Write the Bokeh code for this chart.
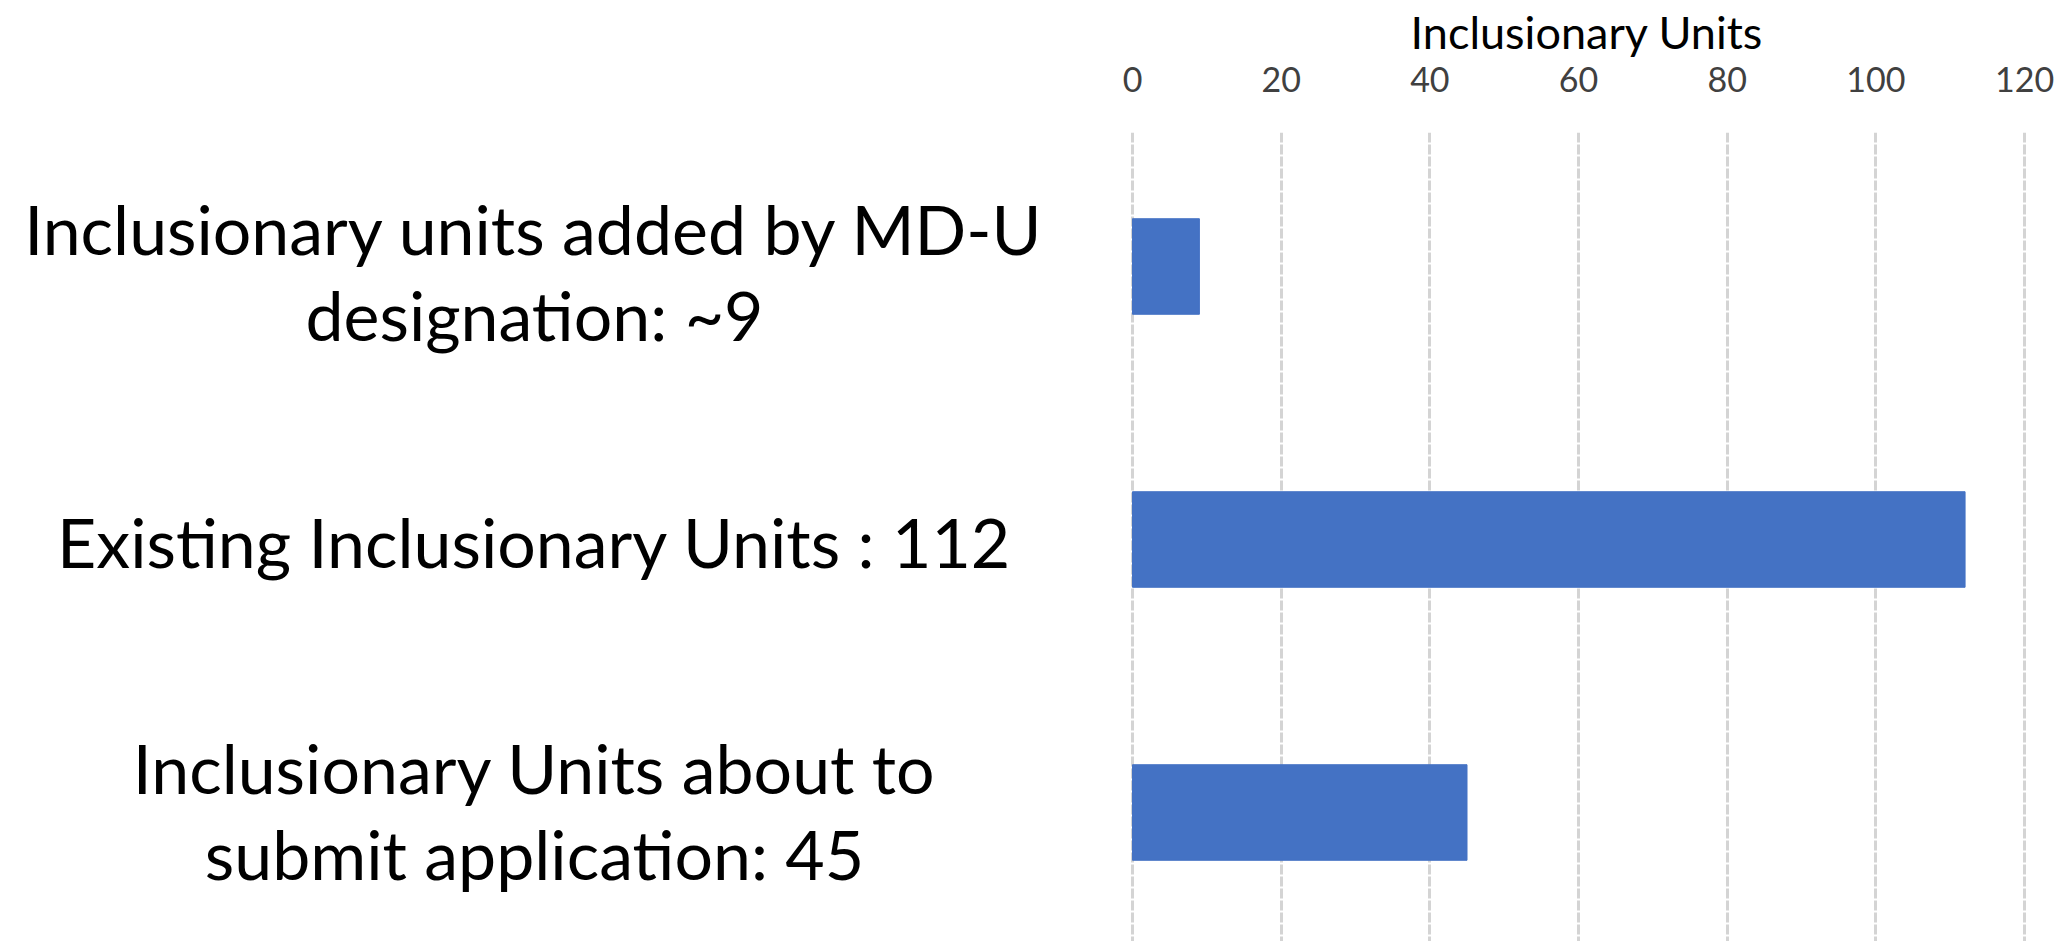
from bokeh.plotting import figure
from bokeh.models import Range1d, FixedTicker, ColumnDataSource, LinearAxis
from bokeh.layouts import row
from bokeh.core.properties import value
from bokeh.embed import file_html
from bokeh.resources import INLINE

# ---- data ----
categories = [
    "Inclusionary units added by MD-U\ndesignation: ~9",
    "Existing Inclusionary Units : 112",
    "Inclusionary Units about to\nsubmit application: 45",
]
units = [9, 112, 45]
tick_values = [0, 20, 40, 60, 80, 100, 120]
axis_title = "Inclusionary Units"

FONT = "Lato"
ypos = list(range(len(categories)))

src = ColumnDataSource(dict(y=ypos, units=units, label=categories,
                            yoff=[5, 2, -2]))

y_range = Range1d(2.4725, -0.49084)
TOP = 132

# ---- left panel: category labels ----
left = figure(width=1117, height=941, output_backend="svg", toolbar_location=None,
              x_range=Range1d(0, 1117), y_range=y_range,
              x_axis_location=None, y_axis_location=None,
              min_border_left=0, min_border_right=0, min_border_bottom=0,
              min_border_top=TOP)
left.outline_line_color = None
left.xgrid.grid_line_color = None
left.ygrid.grid_line_color = None
left.text(x=534, y="y", text="label", source=src, y_offset="yoff",
          text_align="center", text_baseline="middle",
          text_font=value(FONT), text_font_size="68px", text_color="#000000",
          text_line_height=1.05)

# ---- right panel: bars ----
p = figure(width=939, height=941, output_backend="svg", toolbar_location=None,
           x_range=Range1d(-2.018, 124.3), y_range=y_range,
           x_axis_location=None, y_axis_location=None,
           min_border_left=0, min_border_right=0, min_border_bottom=0,
           min_border_top=TOP)
p.outline_line_color = None

ax = LinearAxis(ticker=FixedTicker(ticks=tick_values), axis_label=axis_title)
ax.axis_line_color = None
ax.major_tick_line_color = None
ax.minor_tick_line_color = None
ax.major_tick_out = 0
ax.major_label_standoff = 41
ax.major_label_text_font = FONT
ax.major_label_text_font_size = "34px"
ax.major_label_text_color = "#404040"
ax.axis_label_text_font = FONT
ax.axis_label_text_font_size = "45px"
ax.axis_label_text_font_style = "normal"
ax.axis_label_text_color = "#000000"
ax.axis_label_standoff = 5
p.add_layout(ax, "above")

p.xgrid.ticker = FixedTicker(ticks=tick_values)
p.xgrid.grid_line_color = "#d4d4d4"
p.xgrid.grid_line_width = 3
p.xgrid.grid_line_dash = "10 2"
p.ygrid.grid_line_color = None

p.hbar(y="y", left=0, right="units", height=0.35, source=src,
       fill_color="#4472C4", line_color="#4472C4", line_width=1)

layout = row(left, p, spacing=0)
open("out.html", "w").write(file_html(layout, INLINE))
